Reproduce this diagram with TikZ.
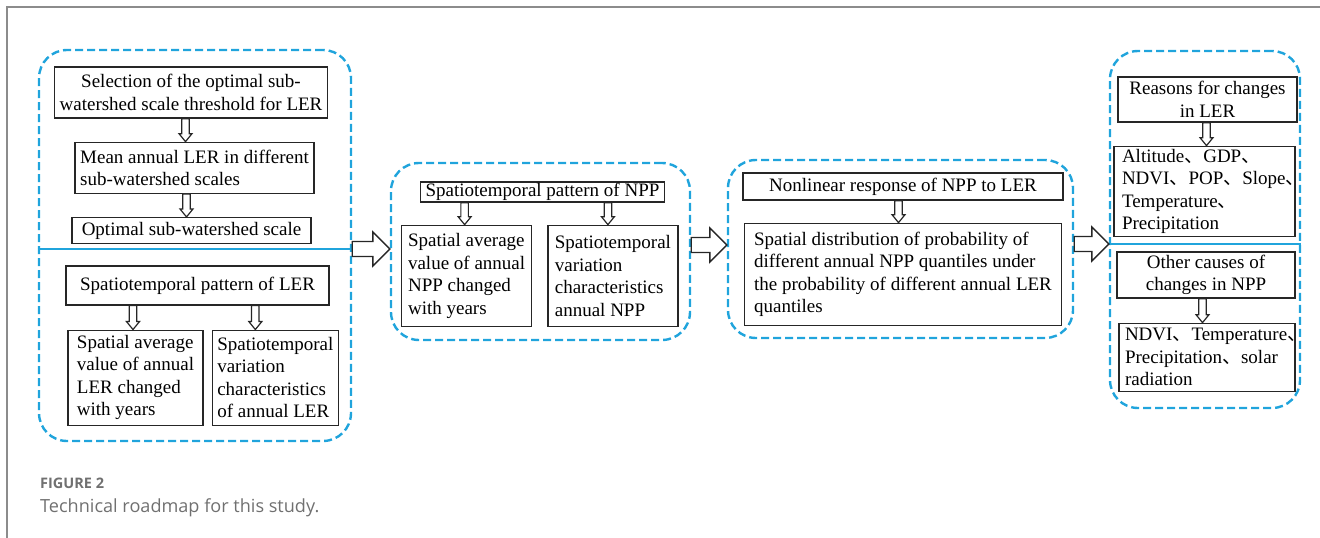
\documentclass[tikz,border=0pt]{standalone}
\usepackage{fontspec}
\setmainfont{Liberation Serif}
\newfontfamily\capfont{Open Sans}
\newfontfamily\cjk{Noto Sans CJK SC}
\usepackage{tikz}
\usetikzlibrary{positioning,calc}

\definecolor{dashblue}{RGB}{32,164,220}
\definecolor{capgray}{RGB}{112,112,112}
\definecolor{framegray}{RGB}{140,140,140}
\newcommand{\dun}{{\cjk 、}}
\newcommand{\boxfont}{\fontsize{19}{22.5}\selectfont\hyphenpenalty=10000}

\tikzset{
  box/.style={draw=black!85, line width=1.3pt, inner xsep=5pt, inner ysep=0pt,
              font=\boxfont, align=center},
  lbox/.style={box, align=left},
  grp/.style={draw=dashblue, line width=2.4pt, dash pattern=on 8pt off 4pt,
              rounded corners=28pt, inner sep=0pt},
  sepline/.style={draw=dashblue, line width=1.6pt},
  dnarrow/.style={draw=black!85, line width=1.2pt, fill=white, to path={
      let \p1=(\tikztostart), \p2=(\tikztotarget) in
      (\x2-3.75pt,\y1) -- (\x2-3.75pt,\y2+8pt) -- (\x2-6.5pt,\y2+8pt) -- (\x2,\y2)
      -- (\x2+6.5pt,\y2+8pt) -- (\x2+3.75pt,\y2+8pt) -- (\x2+3.75pt,\y1) -- cycle}},
  rtarrow/.style={draw=black!85, line width=1.4pt, fill=white, to path={
      let \p1=(\tikztostart), \p2=(\tikztotarget) in
      (\x1,\y2+7.5pt) -- (\x2-17pt,\y2+7.5pt) -- (\x2-17pt,\y2+17pt) -- (\x2,\y2)
      -- (\x2-17pt,\y2-17pt) -- (\x2-17pt,\y2-7.5pt) -- (\x1,\y2-7.5pt) -- cycle}}
}

\begin{document}
\begin{tikzpicture}[x=1pt, y=-1pt]
\useasboundingbox (0,0) rectangle (1320,538);
\draw[framegray, line width=2pt] (1320,7) -- (7,7) -- (7,538);

% LER block
\node (lftgrp) [grp, minimum width=312pt, minimum height=391pt] at (195,245.5) {};
\node (selbox) [box, minimum width=264pt, minimum height=51pt] at (191,92.5)
      {Selection of the optimal sub-\\watershed scale threshold for LER};
\node (meanbox) [lbox, minimum width=239pt, minimum height=51pt, below=23pt of selbox, xshift=3.5pt]
      {Mean annual LER in different\\sub-watershed scales};
\node (optbox) [lbox, minimum width=239pt, minimum height=26pt, below=23pt of meanbox, xshift=-3pt]
      {Optimal sub-watershed scale};
\coordinate (lsplit) at (0,249);
\node (lerpat) [box, minimum width=263pt, minimum height=39pt, below=21pt of optbox, xshift=6pt]
      {Spatiotemporal pattern of LER};
\node (lerave) [lbox, minimum width=135pt, minimum height=95pt,
                below right=24pt and 2pt of lerpat.south west]
      {Spatial average\\value of annual\\LER changed\\with years};
\node (lervar) [lbox, minimum width=122pt, minimum height=95pt, right=8pt of lerave]
      {Spatiotemporal\\variation\\characteristics\\of annual LER};

% NPP block
\node (midgrp) [grp, minimum width=299pt, minimum height=177pt] at (540.5,251.5) {};
\node (npppat) [box, minimum width=241pt, minimum height=20pt] at (542.5,192)
      {Spatiotemporal pattern of NPP};
\node (nppave) [lbox, minimum width=130pt, minimum height=101pt,
                below right=22pt and -19pt of npppat.south west]
      {Spatial average\\value of annual\\NPP changed\\with years};
\node (nppvar) [lbox, minimum width=130pt, minimum height=101pt, right=15pt of nppave]
      {Spatiotemporal\\variation\\characteristics\\annual NPP};

% response block
\node (nlgrp) [grp, minimum width=345pt, minimum height=178pt] at (900.5,249) {};
\node (nlbox1) [box, minimum width=320pt, minimum height=27pt] at (903,186.5)
      {Nonlinear response of NPP to LER};
\node (nlbox2) [lbox, minimum width=317pt, minimum height=102pt, below=22pt of nlbox1]
      {Spatial distribution of probability of\\different annual NPP quantiles under\\the probability of different annual LER\\quantiles};

% causes block
\node (rgtgrp) [grp, minimum width=190pt, minimum height=357pt] at (1205,229.5) {};
\node (rsnbox) [box, minimum width=179pt, minimum height=45pt] at (1207.5,99.5)
      {Reasons for changes\\in LER};
\node (altbox) [lbox, inner xsep=8pt, text width=165pt, minimum height=90pt, below=23pt of rsnbox, xshift=-3pt]
      {Altitude\dun GDP\dun\\NDVI\dun POP\dun Slope\dun\\Temperature\dun\\Precipitation};
\coordinate (rsplit) at (0,244);
\node (othbox) [box, minimum width=178pt, minimum height=46pt] at (1206,275)
      {Other causes of\\changes in NPP};
\node (ndvbox) [lbox, inner xsep=6pt, text width=164pt, minimum height=68pt, below=24pt of othbox, xshift=1pt]
      {NDVI\dun Temperature\dun\\Precipitation\dun solar\\radiation};

% dividers
\draw[sepline] (lftgrp.west |- lsplit) -- (lftgrp.east |- lsplit);
\draw[sepline] (rgtgrp.west |- rsplit) -- (rgtgrp.east |- rsplit);

% small arrows
\draw[dnarrow] (selbox.south) to ([xshift=-9pt]meanbox.north);
\draw[dnarrow] (meanbox.south) to ([xshift=-5pt]optbox.north);
\draw[dnarrow] (lerpat.south) to ([xshift=-2.5pt]lerave.north);
\draw[dnarrow] (lerpat.south) to ([xshift=-20pt]lervar.north);
\draw[dnarrow] (npppat.south) to ([xshift=-2pt]nppave.north);
\draw[dnarrow] (npppat.south) to ([xshift=-5pt]nppvar.north);
\draw[dnarrow] (nlbox1.south) to ([xshift=-4.5pt]nlbox2.north);
\draw[dnarrow] (rsnbox.south) to ([xshift=2pt]altbox.north);
\draw[dnarrow] (othbox.south) to ([xshift=-4.5pt]ndvbox.north);

% big arrows
\draw[rtarrow] (lftgrp.east |- lsplit) to (midgrp.west |- lsplit);
\draw[rtarrow] (midgrp.east) to ([yshift=4pt]nlgrp.west);
\draw[rtarrow] (nlgrp.east |- rsplit) to (rgtgrp.west |- rsplit);

% caption
\node (figno) [anchor=base west, inner sep=0pt, text=capgray,
               font=\capfont\bfseries\fontsize{14.5}{18}\selectfont] at (40,488) {FIGURE 2};
\node (figtxt) [anchor=base west, inner sep=0pt, text=capgray,
                font=\capfont\fontsize{18.1}{22}\selectfont] at (40,512) {Technical roadmap for this study.};
\end{tikzpicture}
\end{document}
